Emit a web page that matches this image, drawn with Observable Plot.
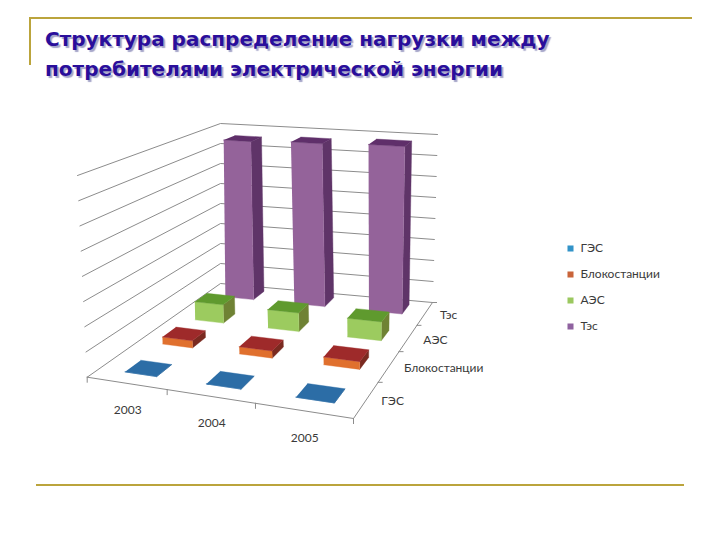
<!DOCTYPE html>
<html lang="ru"><head><meta charset="utf-8">
<script src="https://cdn.jsdelivr.net/npm/d3@7"></script>
<script src="https://cdn.jsdelivr.net/npm/@observablehq/plot@0.6"></script>
<style>
html,body{margin:0;padding:0;background:#fff;width:720px;height:540px;overflow:hidden}
#page{position:relative;width:720px;height:540px}
.rule{position:absolute;background:#BBA43C}
h1{position:absolute;left:45px;top:25px;margin:0;font:bold 20px/29.5px "DejaVu Sans",sans-serif;color:#2A0E9B;text-shadow:2px 2px 1px #A4A4C8;white-space:nowrap}
#chart{position:absolute;left:0;top:0}
</style></head><body>
<div id="page">
<div id="chart"></div>
<div class="rule" style="left:29px;top:17px;width:663px;height:2px"></div>
<div class="rule" style="left:29px;top:17px;width:2px;height:48px"></div>
<div class="rule" style="left:36px;top:484px;width:648px;height:2px"></div>
<h1>Структура распределение нагрузки между<br>потребителями электрической энергии</h1>
</div>
<script>
const years = ["2003","2004","2005"];
const seriesNames = ["ГЭС","Блокостанции","АЭС","Тэс"];
const gES  = [0.3,0.3,0.3];
const blok = [30,30,32];
const aES  = [82,82,82];
const tES  = [755,765,775];
const gridValues = [0,100,200,300,400,500,600,700,800];
const frontColors = ["#2F6FA6","#E0702E","#9CCB5F","#94639A"];
const sideColors  = ["#245A8A","#7A2A20","#6F8234","#5F3468"];
const topColors   = ["#2C6DA6","#9E2A2A","#5F9A2E","#5F2F6A"];
const legendColors = ["#3293C8","#C9643A","#9BC85F","#8F62A0"];
const rows = [gES,blok,aES,tES];
const rowGap = [0.3,0.3,0.3,0.29];
const rowShiftU = [0.03,0.03,0.03,0.03];
const rowShiftV = [0,0,0,0.1];

// camera: image of the chart box (floor and top planes)
const floorQuad = [[86.7,376.7],[353,418],[432,302],[220,283]];
const topQuad   = [[77,175],[354,210],[437,134],[220,123]];
const maxValue = 800;
function homography(q){
  const [[x0,y0],[x1,y1],[x2,y2],[x3,y3]] = q;
  const dx1=x1-x2, dx2=x3-x2, sx=x0-x1+x2-x3, dy1=y1-y2, dy2=y3-y2, sy=y0-y1+y2-y3;
  const den=dx1*dy2-dx2*dy1;
  const g=(sx*dy2-dx2*sy)/den, h=(dx1*sy-sx*dy1)/den;
  const a=x1-x0+g*x1, b=x3-x0+h*x3, d=y1-y0+g*y1, e=y3-y0+h*y3;
  return (u,v)=>{const w=g*u+h*v+1;return [(a*u+b*v+x0)/w,(d*u+e*v+y0)/w];};
}
const H0=homography(floorQuad), H1=homography(topQuad);
function P(year,row,val){
  const u=year/years.length, v=row/seriesNames.length, t=val/maxValue;
  const a=H0(u,v), b=H1(u,v);
  return [a[0]+(b[0]-a[0])*t, a[1]+(b[1]-a[1])*t];
}
const poly=(pts,fill)=>Plot.line(pts,{x:p=>p[0],y:p=>p[1],fill,stroke:fill,strokeWidth:0.4});
const seg=(pts,w=1)=>Plot.line(pts,{x:p=>p[0],y:p=>p[1],stroke:"#8C8C8C",strokeWidth:w});

const marks=[];
// walls
for(const g of gridValues){
  marks.push(seg([P(0,0,g),P(0,4,g),P(3,4,g)]));
}
// floor edges and ticks
marks.push(seg([P(0,0,0),P(3,0,0),P(3,4,0)]));
for(let i=0;i<=3;i++){const p=P(i,0,0);marks.push(Plot.ruleX([p],{x:d=>d[0],y1:d=>d[1],y2:d=>d[1]+6,stroke:"#8C8C8C"}));}
for(let j=1;j<=4;j++){const p=P(3,j,0);marks.push(Plot.ruleY([p],{y:d=>d[1],x1:d=>d[0],x2:d=>d[0]+5,stroke:"#8C8C8C"}));}

// bars, far row first
for(let j=3;j>=0;j--){
  rows[j].forEach((val,i)=>{
    const gap=rowGap[j];
    const a=i+gap+rowShiftU[j],b=i+1-gap+rowShiftU[j],c=j+gap+rowShiftV[j],d=j+1-gap+rowShiftV[j];
    marks.push(poly([P(b,c,0),P(b,d,0),P(b,d,val),P(b,c,val)],sideColors[j]));
    marks.push(poly([P(a,c,0),P(b,c,0),P(b,c,val),P(a,c,val)],frontColors[j]));
    marks.push(poly([P(a,c,val),P(b,c,val),P(b,d,val),P(a,d,val)],topColors[j]));
  });
}
// labels
const labelFont={fontFamily:"Lato, 'Open Sans', sans-serif",fontSize:12,fill:"#3a3a3a"};
marks.push(Plot.text(years,{x:(d,i)=>P(i+0.5,0,0)[0],y:(d,i)=>P(i+0.5,0,0)[1],text:d=>d,dy:27,dx:1.5,...labelFont}));
marks.push(Plot.text(seriesNames,{x:(d,j)=>P(3,j+0.5,0)[0],y:(d,j)=>P(3,j+0.5,0)[1],text:d=>d,dx:15,dy:2,textAnchor:"start",...labelFont}));
// legend
const legendX=570, legendY=[248,274,300,326];
marks.push(Plot.dot(seriesNames,{x:()=>legendX,y:(d,i)=>legendY[i],symbol:"square",r:3.4,fill:(d,i)=>legendColors[i]}));
marks.push(Plot.text(seriesNames,{x:()=>legendX+10,y:(d,i)=>legendY[i],text:d=>d,textAnchor:"start",...labelFont}));

const chart=Plot.plot({width:720,height:540,margin:0,
  x:{domain:[0,720],range:[0,720],axis:null},
  y:{domain:[0,540],range:[0,540],axis:null},
  style:{background:"transparent"},
  marks});
document.getElementById("chart").appendChild(chart);
</script>
</body></html>
